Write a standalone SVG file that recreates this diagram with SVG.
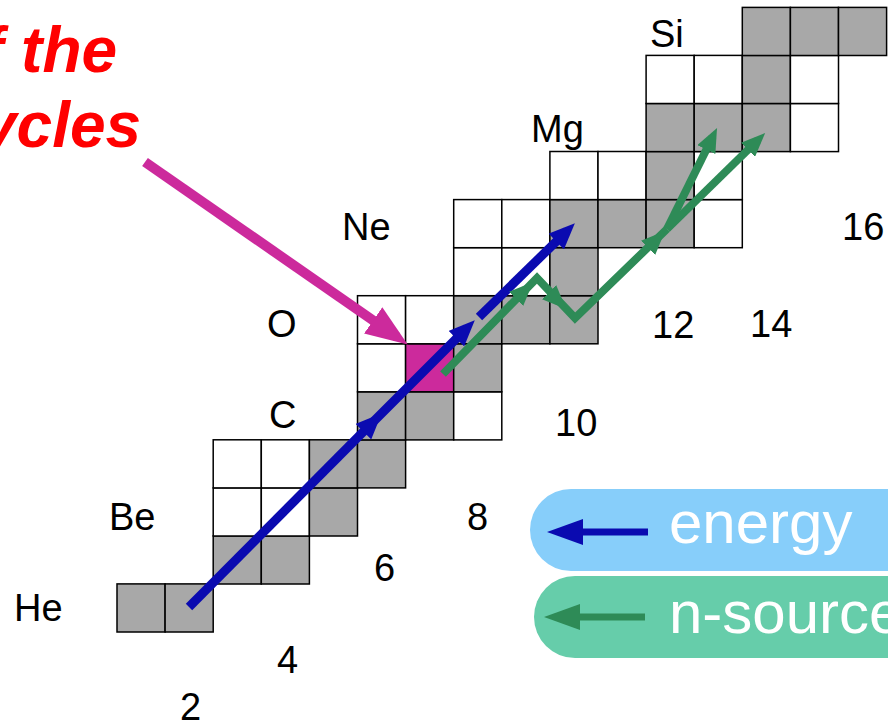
<svg xmlns="http://www.w3.org/2000/svg" width="888" height="726" viewBox="0 0 888 726">
<style>
  .w{fill:#ffffff;stroke:#000;stroke-width:1.5}
  .g{fill:#a8a8a8;stroke:#000;stroke-width:1.5}
  .m{fill:#cc2a9c;stroke:#000;stroke-width:1.5}
  .lbl{font-family:"Liberation Sans",Arial,Helvetica,sans-serif;font-size:38px;fill:#000}
  .red{font-family:"Liberation Sans",Arial,Helvetica,sans-serif;font-size:64px;font-weight:bold;font-style:italic;fill:#ff0000}
  .leg{font-family:"Liberation Sans",Arial,Helvetica,sans-serif;font-size:60px;fill:#ffffff}
  .blue{stroke:#0a0ab0;stroke-width:9;fill:none}
  .green{stroke:#2e8b57;stroke-width:8;fill:none;stroke-linejoin:miter}
  .mag{stroke:#cc2a9c;stroke-width:10;fill:none}
</style>
<defs>
  <marker id="hb" markerUnits="userSpaceOnUse" viewBox="0 0 26 22" markerWidth="26" markerHeight="22" refX="15" refY="11" orient="auto">
    <path d="M0,0 L26,11 L0,22 z" fill="#0a0ab0"/>
  </marker>
  <marker id="hg" markerUnits="userSpaceOnUse" viewBox="0 0 24 20" markerWidth="24" markerHeight="20" refX="14" refY="10" orient="auto">
    <path d="M0,0 L24,10 L0,20 z" fill="#2e8b57"/>
  </marker>
  <marker id="hm" markerUnits="userSpaceOnUse" viewBox="0 0 42 32" markerWidth="42" markerHeight="32" refX="29" refY="16" orient="auto">
    <path d="M0,0 L42,16 L0,32 z" fill="#cc2a9c"/>
  </marker>
  <marker id="hlb" markerUnits="userSpaceOnUse" viewBox="0 0 36 26" markerWidth="36" markerHeight="26" refX="22" refY="13" orient="auto">
    <path d="M0,0 L36,13 L0,26 z" fill="#0a0ab0"/>
  </marker>
  <marker id="hlg" markerUnits="userSpaceOnUse" viewBox="0 0 36 26" markerWidth="36" markerHeight="26" refX="22" refY="13" orient="auto">
    <path d="M0,0 L36,13 L0,26 z" fill="#2e8b57"/>
  </marker>
</defs>
<rect x="0" y="0" width="888" height="726" fill="#fff"/>

<g id="red-text">
  <text class="red" x="-18" y="72">f the</text>
  <text class="red" x="-19" y="147">ycles</text>
</g>

<g id="cells">
  <g id="row0"><rect class="g" x="117" y="583.9" width="48.1" height="48.1"/><rect class="g" x="165.1" y="583.9" width="48.1" height="48.1"/></g>
  <g id="row1"><rect class="g" x="213.2" y="535.9" width="48.1" height="48.1"/><rect class="g" x="261.3" y="535.9" width="48.1" height="48.1"/></g>
  <g id="row2"><rect class="w" x="213.2" y="487.9" width="48.1" height="48.1"/><rect class="w" x="261.3" y="487.9" width="48.1" height="48.1"/><rect class="g" x="309.4" y="487.9" width="48.1" height="48.1"/></g>
  <g id="row3"><rect class="w" x="213.2" y="439.8" width="48.1" height="48.1"/><rect class="w" x="261.3" y="439.8" width="48.1" height="48.1"/><rect class="g" x="309.4" y="439.8" width="48.1" height="48.1"/><rect class="g" x="357.5" y="439.8" width="48.1" height="48.1"/></g>
  <g id="row4"><rect class="g" x="357.5" y="391.8" width="48.1" height="48.1"/><rect class="g" x="405.6" y="391.8" width="48.1" height="48.1"/><rect class="w" x="453.7" y="391.8" width="48.1" height="48.1"/></g>
  <g id="row5"><rect class="w" x="357.5" y="343.7" width="48.1" height="48.1"/><rect id="magenta-cell" class="m" x="405.6" y="343.7" width="48.1" height="48.1"/><rect class="g" x="453.7" y="343.7" width="48.1" height="48.1"/></g>
  <g id="row6"><rect class="w" x="357.5" y="295.7" width="48.1" height="48.1"/><rect class="w" x="405.6" y="295.7" width="48.1" height="48.1"/><rect class="g" x="453.7" y="295.7" width="48.1" height="48.1"/><rect class="g" x="501.8" y="295.7" width="48.1" height="48.1"/><rect class="g" x="549.9" y="295.7" width="48.1" height="48.1"/></g>
  <g id="row7"><rect class="w" x="453.7" y="247.6" width="48.1" height="48.1"/><rect class="w" x="501.8" y="247.6" width="48.1" height="48.1"/><rect class="g" x="549.9" y="247.6" width="48.1" height="48.1"/></g>
  <g id="row8"><rect class="w" x="453.7" y="199.6" width="48.1" height="48.1"/><rect class="w" x="501.8" y="199.6" width="48.1" height="48.1"/><rect class="g" x="549.9" y="199.6" width="48.1" height="48.1"/><rect class="g" x="598" y="199.6" width="48.1" height="48.1"/><rect class="g" x="646.1" y="199.6" width="48.1" height="48.1"/><rect class="w" x="694.2" y="199.6" width="48.1" height="48.1"/></g>
  <g id="row9"><rect class="w" x="549.9" y="151.5" width="48.1" height="48.1"/><rect class="w" x="598" y="151.5" width="48.1" height="48.1"/><rect class="g" x="646.1" y="151.5" width="48.1" height="48.1"/><rect class="w" x="694.2" y="151.5" width="48.1" height="48.1"/></g>
  <g id="row10"><rect class="g" x="646.1" y="103.5" width="48.1" height="48.1"/><rect class="g" x="694.2" y="103.5" width="48.1" height="48.1"/><rect class="g" x="742.3" y="103.5" width="48.1" height="48.1"/><rect class="w" x="790.4" y="103.5" width="48.1" height="48.1"/></g>
  <g id="row11"><rect class="w" x="646.1" y="55.4" width="48.1" height="48.1"/><rect class="w" x="694.2" y="55.4" width="48.1" height="48.1"/><rect class="g" x="742.3" y="55.4" width="48.1" height="48.1"/><rect class="w" x="790.4" y="55.4" width="48.1" height="48.1"/></g>
  <g id="row12"><rect class="g" x="742.3" y="7.4" width="48.1" height="48.1"/><rect class="g" x="790.4" y="7.4" width="48.1" height="48.1"/><rect class="g" x="838.5" y="7.4" width="48.1" height="48.1"/></g>
</g>

<g id="labels">
  <text class="lbl" x="14" y="621">He</text>
  <text class="lbl" x="109" y="530">Be</text>
  <text class="lbl" x="269" y="428">C</text>
  <text class="lbl" x="267" y="337">O</text>
  <text class="lbl" x="342" y="240">Ne</text>
  <text class="lbl" x="531" y="142">Mg</text>
  <text class="lbl" x="650" y="47">Si</text>
  <text class="lbl" x="180" y="720">2</text>
  <text class="lbl" x="277" y="673">4</text>
  <text class="lbl" x="374" y="581">6</text>
  <text class="lbl" x="467" y="530">8</text>
  <text class="lbl" x="555" y="436">10</text>
  <text class="lbl" x="652" y="338">12</text>
  <text class="lbl" x="750" y="337">14</text>
  <text class="lbl" x="842" y="240">16</text>
</g>

<g id="connectors">
  <path class="mag" d="M145,162 L397,337" marker-end="url(#hm)"/>
  <path class="blue" d="M189,607 L374,421" marker-end="url(#hb)"/>
  <path class="blue" d="M374,421 L467,328" marker-end="url(#hb)"/>
  <path class="blue" d="M479,317 L567,231" marker-end="url(#hb)"/>
  <path class="green" d="M443,374 L537,278 L575,318 L667,229"/>
  <path class="green" d="M519,296 L526,289" marker-end="url(#hg)"/>
  <path class="green" d="M552,295 L559,302" marker-end="url(#hg)"/>
  <path class="green" d="M651,245 L658,238" marker-end="url(#hg)"/>
  <path class="green" d="M667,229 L712.6,137" marker-end="url(#hg)"/>
  <path class="green" d="M667,229 L758,140" marker-end="url(#hg)"/>
</g>

<g id="legend-energy">
  <rect x="530" y="489" width="420" height="82" rx="41" fill="#87cefa"/>
  <path d="M648,532 L561,532" stroke="#0a0ab0" stroke-width="7" fill="none" marker-end="url(#hlb)"/>
  <text class="leg" x="669" y="543">energy</text>
</g>
<g id="legend-nsource">
  <rect x="534" y="576" width="420" height="82" rx="41" fill="#66cdaa"/>
  <path d="M645,617 L558,617" stroke="#2e8b57" stroke-width="7" fill="none" marker-end="url(#hlg)"/>
  <text class="leg" x="669" y="633">n-source</text>
</g>
</svg>
